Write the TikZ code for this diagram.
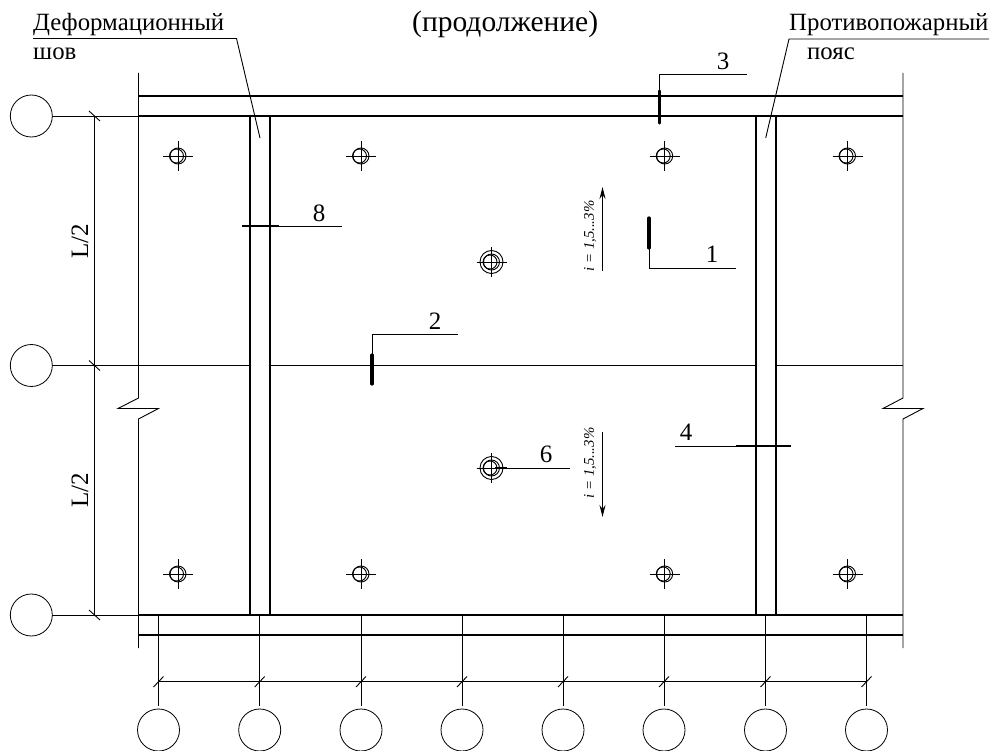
\documentclass[tikz,border=0pt]{standalone}
\usepackage{fontspec}
\setmainfont{Liberation Serif}
\usetikzlibrary{arrows.meta}
\tikzset{
  fino/.style={line width=0.9pt},
  grosso/.style={line width=2pt},
  marca/.style={line width=3.2pt, line cap=round},
  eixo/.style={circle, draw, line width=0.8pt, minimum size=42pt, inner sep=0pt, outer sep=0pt},
  texto/.style={anchor=base west, inner sep=0pt, font=\fontsize{24.8}{28}\selectfont},
  num/.style={anchor=base, inner sep=0pt, font=\fontsize{25}{28}\selectfont},
  incl/.style={rotate=90, inner sep=0pt, font=\fontsize{14.8}{16}\selectfont\itshape}
}
\begin{document}
\begin{tikzpicture}[x=1pt, y=-1pt]
  \useasboundingbox (0,0) rectangle (993,751);
  % titulos
  \node[texto] (defA) at (33,31) {Деформационный};
  \node[texto] (defB) at (33,60) {шов};
  \node[texto, font=\fontsize{29.5}{32}\selectfont] (titulo) at (412,32) {(продолжение)};
  \node[texto] (proA) at (789,31) {Противопожарный};
  \node[texto] (proB) at (807,60) {пояс};
  % limites
  \draw[fino] (138.5,73) -- (138.5,398) -- (118,408.5) -- (158.5,408.5) -- (138.5,419) -- (138.5,648);
  \draw[fino] (903,73) -- (903,398) -- (883,408.5) -- (923,408.5) -- (903,419) -- (903,648);
  % paredes
  \draw[grosso] (138,96) -- (903,96);
  \draw[grosso] (138,116) -- (903,116);
  \draw[grosso] (138,615) -- (903,615);
  \draw[grosso] (138,635) -- (903,635);
  \foreach \x in {250,270,755.5,775.5} \draw[grosso] (\x,116) -- (\x,615);
  % eixos esquerda
  \foreach \n/\y in {a/116,b/365.5,c/615} {
    \node[eixo] (\n) at (31.3,\y) {};
    \draw[fino] (89,\y-5) -- (100,\y+5);
  }
  \draw[fino] (a) -- (138.5,116);
  \draw[fino] (c) -- (138.5,615);
  \draw[fino] (b) -- (250,365.5);
  \draw[fino] (270,365.5) -- (755.5,365.5);
  \draw[fino] (775.5,365.5) -- (903,365.5);
  \draw[fino] (94.7,116) -- (94.7,615);
  \node[num, rotate=90] (la) at (88,241) {L/2};
  \node[num, rotate=90] (lb) at (88,490) {L/2};
  % eixos baixo
  \draw[fino] (158.5,681.7) -- (866.5,681.7);
  \foreach \i/\x in {1/158.5,2/259.7,3/361,4/462,5/563,6/664,7/765.5,8/866.5} {
    \node[eixo] (n\i) at (\x,730) {};
    \draw[fino] (\x,615) -- (\x,705.7);
    \draw[fino] (\x-5,687) -- (\x+5,676.5);
  }
  % pilares
  \foreach \x in {178,361,664.7,847.5}
    \foreach \y in {156,574} {
      \draw[fino] (\x,\y) circle (8);
      \draw[fino] ({\x-1.5},\y) circle (7);
      \draw[fino] (\x-15,\y) -- (\x+15,\y);
      \draw[fino] (\x,\y-15) -- (\x,\y+15);
    }
  % ralos
  \foreach \y in {262,468} {
    \draw[fino] (491.5,\y) circle (11.5);
    \draw[fino] (491.5,\y) circle (8);
    \draw[fino] (490,\y) circle (7);
    \draw[fino] (476.5,\y) -- (506.5,\y);
    \draw[fino] (491.5,\y-15) -- (491.5,\y+15);
  }
  % chamadas
  \coordinate (defC) at (236.5,38.5);
  \coordinate (defD) at (260,138);
  \draw[fino] (33,38.5) -- (defC) -- (defD);
  \coordinate (proC) at (789,39);
  \coordinate (proD) at (765.7,138);
  \draw[fino] (989,39) -- (proC) -- (proD);
  % cortes
  \draw[fino] (659.7,91) -- (659.7,74.5) -- (747,74.5);
  \draw[marca] (659.7,91) -- (659.7,123);
  \node[num] (n3) at (723,70) {3};
  \draw[fino] (649,248) -- (649,268) -- (736,268);
  \draw[marca] (649,218) -- (649,248);
  \node[num] (n1) at (712,263) {1};
  \draw[fino] (372,355) -- (372,334) -- (458,334);
  \draw[marca] (372,355) -- (372,384);
  \node[num] (n2) at (435,329) {2};
  \draw[fino] (279,226) -- (342,226);
  \draw[line width=2.6pt] (242,226) -- (279,226);
  \node[num] (n8) at (319,222) {8};
  \draw[fino] (675,446) -- (736,446);
  \draw[line width=2.6pt] (736,446) -- (791,446);
  \node[num] (n4) at (686,440) {4};
  \draw[fino] (491.5,468) -- (570,468);
  \draw[line width=1.8pt] (495,468) -- (507,468);
  \node[num] (n6) at (546,462) {6};
  % inclinacao
  \draw[fino, -{Stealth[length=12pt, width=6pt, inset=4pt]}] (602.5,271) -- (602.5,187);
  \draw[fino, -{Stealth[length=12pt, width=6pt, inset=4pt]}] (602.5,432) -- (602.5,517);
  \node[incl] (i1) at (590,236) {i = 1,5...3\%};
  \node[incl] (i2) at (590,463) {i = 1,5...3\%};
\end{tikzpicture}
\end{document}
